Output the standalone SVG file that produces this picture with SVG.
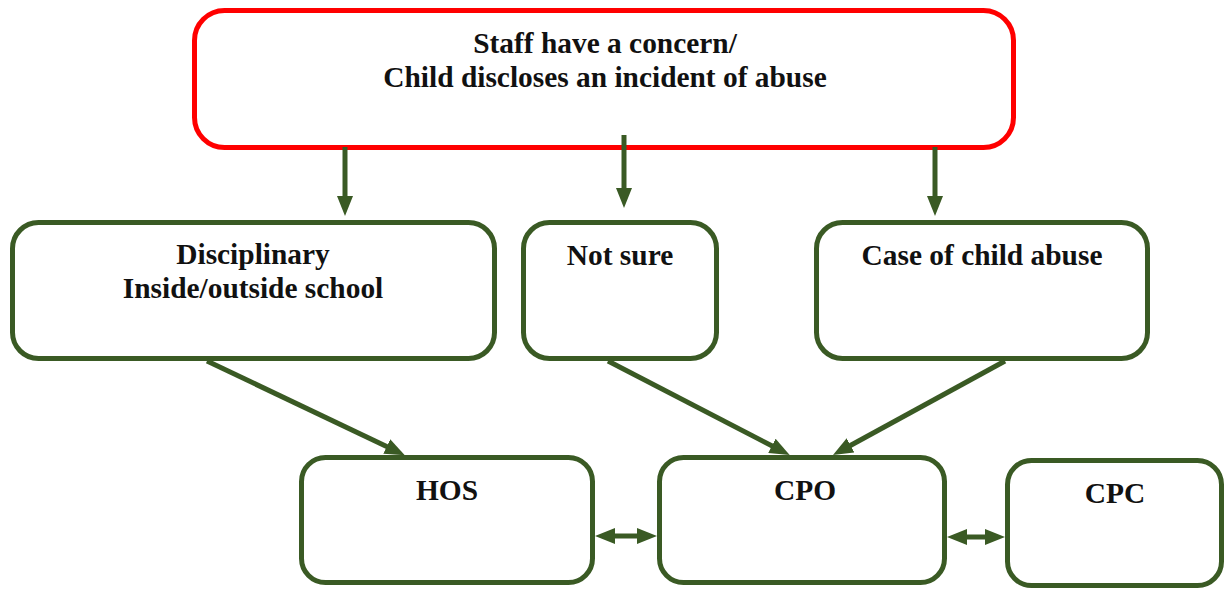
<svg xmlns="http://www.w3.org/2000/svg" width="1227" height="590" viewBox="0 0 1227 590">
<style>
.box{fill:#fff;stroke:#3a5a24;stroke-width:5}
.top{fill:#fff;stroke:#ff0000;stroke-width:5}
.t{font-family:"Liberation Serif","Times New Roman",serif;font-weight:bold;font-size:29.4px;fill:#111;text-anchor:middle}
.c{stroke:#3a5a24;stroke-width:5;fill:none;marker-end:url(#ah)}
.d{stroke:#3a5a24;stroke-width:5;fill:none;marker-start:url(#ah);marker-end:url(#ah)}
</style>
<defs>
<marker id="ah" viewBox="0 0 20 16" refX="8" refY="8" markerWidth="20" markerHeight="16" markerUnits="userSpaceOnUse" orient="auto-start-reverse">
<path d="M0,0 L20,8 L0,16 z" fill="#3a5a24"/>
</marker>
</defs>
<rect width="1227" height="590" fill="#fff"/>
<g id="concern">
<rect class="top" x="194.5" y="10.5" width="819" height="137" rx="30"/>
<text class="t" x="605" y="53">Staff have a concern/</text>
<text class="t" x="605" y="87">Child discloses an incident of abuse</text>
</g>
<g id="disciplinary">
<rect class="box" x="12.5" y="222.5" width="482" height="136" rx="26"/>
<text class="t" x="253" y="264">Disciplinary</text>
<text class="t" x="253" y="298">Inside/outside school</text>
</g>
<g id="notsure">
<rect class="box" x="523.5" y="222.5" width="193" height="136" rx="26"/>
<text class="t" x="620" y="265">Not sure</text>
</g>
<g id="abuse">
<rect class="box" x="816.5" y="222.5" width="331" height="136" rx="26"/>
<text class="t" x="982" y="265">Case of child abuse</text>
</g>
<g id="hos">
<rect class="box" x="301.5" y="457.5" width="291" height="125" rx="24"/>
<text class="t" x="447" y="500">HOS</text>
</g>
<g id="cpo">
<rect class="box" x="659.5" y="457.5" width="285" height="125" rx="24"/>
<text class="t" x="805" y="500">CPO</text>
</g>
<g id="cpc">
<rect class="box" x="1007.5" y="460.5" width="214" height="125" rx="24"/>
<text class="t" x="1115" y="503">CPC</text>
</g>
<g id="connectors">
<line class="c" x1="345" y1="147" x2="345" y2="204"/>
<line class="c" x1="624" y1="135" x2="624" y2="196"/>
<line class="c" x1="935" y1="147" x2="935" y2="204"/>
<line class="c" x1="207" y1="361" x2="394" y2="450"/>
<line class="c" x1="608" y1="361" x2="779" y2="449.5"/>
<line class="c" x1="1005" y1="361" x2="843.5" y2="449.2"/>
<line class="d" x1="607" y1="536" x2="645" y2="536"/>
<line class="d" x1="959" y1="537" x2="993" y2="537"/>
</g>
</svg>
